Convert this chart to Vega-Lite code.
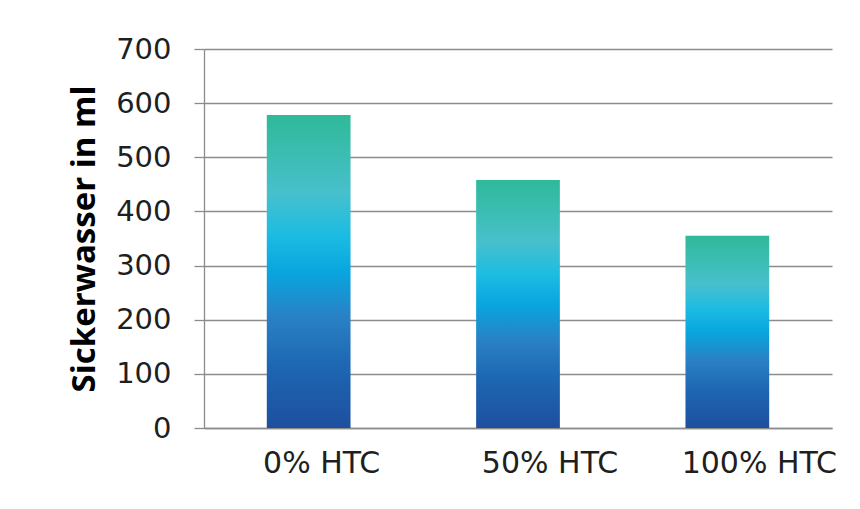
{
  "$schema": "https://vega.github.io/schema/vega-lite/v6.json",
  "width": 628,
  "height": 379,
  "autosize": {"type": "none"},
  "padding": {"left": 204, "top": 49, "right": 28, "bottom": 81},
  "background": "white",
  "data": {
    "values": [
      {"Variante": "0% HTC", "Sickerwasser": 578},
      {"Variante": "50% HTC", "Sickerwasser": 458},
      {"Variante": "100% HTC", "Sickerwasser": 355}
    ]
  },
  "mark": {
    "type": "bar",
    "color": {
      "gradient": "linear",
      "x1": 0, "y1": 1, "x2": 0, "y2": 0,
      "stops": [
        {"offset": 0, "color": "#1e4f9f"},
        {"offset": 0.2, "color": "#1d67b2"},
        {"offset": 0.35, "color": "#2a80c4"},
        {"offset": 0.5, "color": "#08a6df"},
        {"offset": 0.62, "color": "#1dbce2"},
        {"offset": 0.75, "color": "#47c0cc"},
        {"offset": 0.88, "color": "#3bbdb1"},
        {"offset": 1, "color": "#2fb99a"}
      ]
    }
  },
  "encoding": {
    "x": {
      "field": "Variante",
      "type": "nominal",
      "sort": null,
      "scale": {"paddingInner": 0.6, "paddingOuter": 0.3},
      "axis": {
        "title": null,
        "labelAngle": 0,
        "ticks": false,
        "labelPadding": 20,
        "labelOffset": {"expr": "datum.value == '0% HTC' ? 13 : 32"},
        "labelFont": "DejaVu Sans",
        "labelFontSize": 30,
        "labelColor": "#1f1f1f",
        "domainColor": "#8c8c8c",
        "domainWidth": 1.3
      }
    },
    "y": {
      "field": "Sickerwasser",
      "type": "quantitative",
      "scale": {"domain": [0, 700], "nice": false},
      "axis": {
        "title": "Sickerwasser in ml",
        "titleFont": "Open Sans",
        "titleFontWeight": "bold",
        "titleFontSize": 33,
        "titleColor": "#000000",
        "titlePadding": 14,
        "values": [0, 100, 200, 300, 400, 500, 600, 700],
        "tickSize": 10,
        "tickColor": "#8c8c8c",
        "tickWidth": 1.3,
        "labelPadding": 23,
        "labelFont": "DejaVu Sans",
        "labelFontSize": 29,
        "labelColor": "#1f1f1f",
        "domainColor": "#8c8c8c",
        "domainWidth": 1.3,
        "grid": true,
        "gridColor": "#8c8c8c",
        "gridWidth": 1.3
      }
    }
  },
  "config": {
    "view": {"stroke": null}
  }
}
